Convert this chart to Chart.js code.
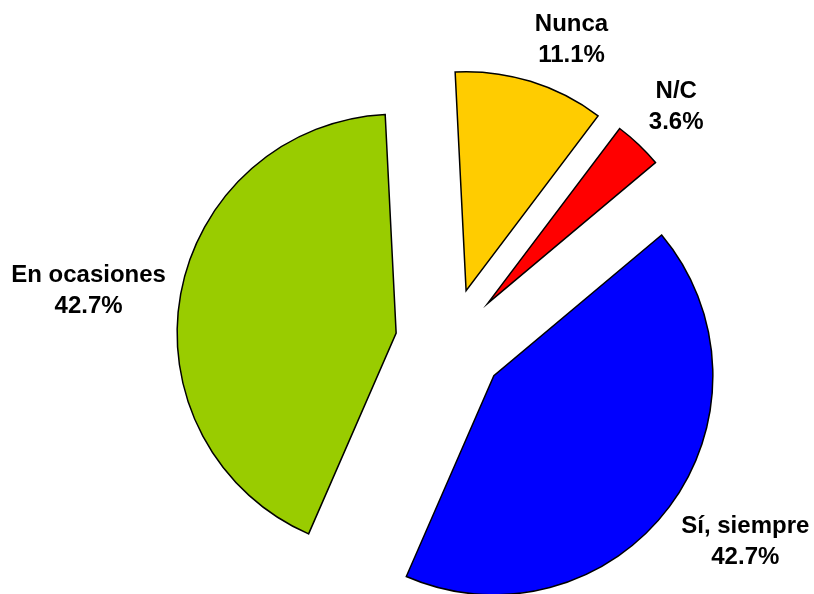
<!DOCTYPE html>
<html>
<head>
<meta charset="utf-8">
<script src="https://cdn.jsdelivr.net/npm/chart.js@4/dist/chart.umd.min.js"></script>
<style>
  html, body { margin: 0; padding: 0; background: #ffffff; }
  #wrap { width: 814px; height: 594px; }
</style>
</head>
<body>
<div id="wrap"><canvas id="c" width="814" height="594"></canvas></div>
<script>
// ---- data ----
const categories = ['Sí, siempre', 'En ocasiones', 'Nunca', 'N/C'];
const percentages = [42.7, 42.7, 11.1, 3.6];
const sliceColors = ['#0000FF', '#99CC00', '#FFCC00', '#FF0000'];

// ---- style ----
const EXPLODE = 0.25;       // slice explosion as fraction of radius
const LABEL_GAP = 15;       // gap between exploded arc and label
const LABEL_FONT = 'bold 24px "Liberation Sans", Arial, sans-serif';
const LINE_H = 31, CAP_H = 17, DESC_H = 5;

const explodePlugin = {
  id: 'explode',
  beforeDatasetsDraw(chart) {
    chart.getDatasetMeta(0).data.forEach(arc => {
      if (arc._exploded) return;
      const base = arc.draw;
      arc.draw = function (ctx, area) {
        const mid = (this.startAngle + this.endAngle) / 2;
        const d = this.outerRadius * EXPLODE;
        ctx.save();
        ctx.translate(Math.cos(mid) * d, Math.sin(mid) * d);
        base.call(this, ctx, area);
        ctx.restore();
      };
      arc._exploded = true;
    });
  }
};

const labelPlugin = {
  id: 'pieLabels',
  afterDatasetsDraw(chart) {
    const ctx = chart.ctx;
    const meta = chart.getDatasetMeta(0);
    ctx.save();
    ctx.font = LABEL_FONT;
    ctx.fillStyle = '#000000';
    ctx.textAlign = 'center';
    ctx.textBaseline = 'alphabetic';
    meta.data.forEach((arc, i) => {
      const mid = (arc.startAngle + arc.endAngle) / 2;
      const dx = Math.cos(mid), dy = Math.sin(mid);
      const dist = arc.outerRadius * (1 + EXPLODE) + LABEL_GAP;
      const px = arc.x + dx * dist, py = arc.y + dy * dist;
      const lines = [chart.data.labels[i], percentages[i].toFixed(1) + '%'];
      const W = Math.max(...lines.map(t => ctx.measureText(t).width));
      const H = CAP_H + (lines.length - 1) * LINE_H + DESC_H;
      let left;
      if (Math.abs(dx) < 0.1) left = px - W / 2;
      else left = dx > 0 ? px : px - W;
      let top;
      if (Math.abs(dy) < 0.3) top = py - H / 2;
      else top = dy > 0 ? py : py - H;
      lines.forEach((t, k) => {
        ctx.fillText(t, left + W / 2, top + CAP_H + k * LINE_H);
      });
    });
    ctx.restore();
  }
};

new Chart(document.getElementById('c'), {
  type: 'pie',
  data: {
    labels: categories,
    datasets: [{
      data: percentages,
      backgroundColor: sliceColors,
      borderColor: '#000000',
      borderWidth: 1.5,
      borderJoinStyle: 'miter',
      offset: 0
    }]
  },
  options: {
    responsive: false,
    animation: false,
    rotation: 50,
    radius: 219,
    layout: { padding: { left: 86, top: 92, right: 0, bottom: 0 } },
    plugins: {
      legend: { display: false },
      tooltip: { enabled: false }
    },
    events: []
  },
  plugins: [explodePlugin, labelPlugin]
});
</script>
</body>
</html>
